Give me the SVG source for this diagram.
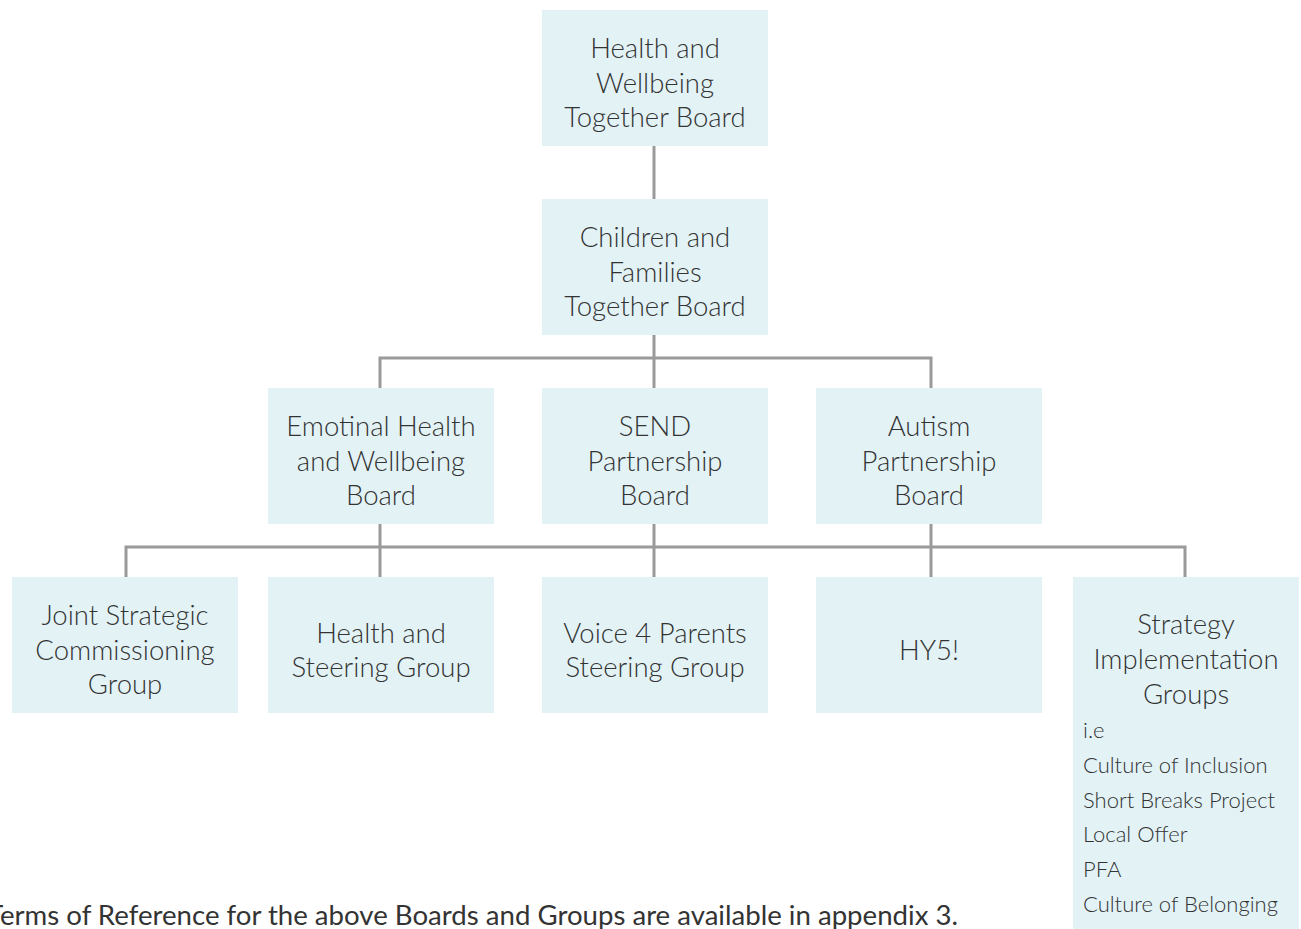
<svg xmlns="http://www.w3.org/2000/svg" width="1301" height="929" viewBox="0 0 1301 929">
<style>
.box{fill:#e2f2f5}
.t{font-family:Lato,"Open Sans","Liberation Sans",sans-serif;font-weight:300;font-size:27.5px;fill:#333;text-anchor:middle}
.s{font-family:Lato,"Open Sans","Liberation Sans",sans-serif;font-weight:300;font-size:22px;fill:#333}
.f{font-family:Lato,"Open Sans","Liberation Sans",sans-serif;font-weight:400;font-size:26px;fill:#333}
.c{stroke:#9a9a9a;stroke-width:3;fill:none}
</style>
<rect width="1301" height="929" fill="#fff"/>
<g id="connectors">
<path class="c" d="M654 146V199"/>
<path class="c" d="M654 335V388M380 388V358H931V388"/>
<path class="c" d="M380 524V577M654 524V577M931 524V577M126 577V547H1185V577"/>
</g>
<g id="n1"><rect class="box" x="542" y="10" width="226" height="136"/>
<text class="t" x="655" y="58">Health and</text><text class="t" x="655" y="93">Wellbeing</text><text class="t" x="655" y="127">Together Board</text></g>
<g id="n2"><rect class="box" x="542" y="199" width="226" height="136"/>
<text class="t" x="655" y="247">Children and</text><text class="t" x="655" y="282">Families</text><text class="t" x="655" y="316">Together Board</text></g>
<g id="n3"><rect class="box" x="268" y="388" width="226" height="136"/>
<text class="t" x="381" y="436">Emotinal Health</text><text class="t" x="381" y="471">and Wellbeing</text><text class="t" x="381" y="505">Board</text></g>
<g id="n4"><rect class="box" x="542" y="388" width="226" height="136"/>
<text class="t" x="655" y="436">SEND</text><text class="t" x="655" y="471">Partnership</text><text class="t" x="655" y="505">Board</text></g>
<g id="n5"><rect class="box" x="816" y="388" width="226" height="136"/>
<text class="t" x="929" y="436">Autism</text><text class="t" x="929" y="471">Partnership</text><text class="t" x="929" y="505">Board</text></g>
<g id="n6"><rect class="box" x="12" y="577" width="226" height="136"/>
<text class="t" x="125" y="625">Joint Strategic</text><text class="t" x="125" y="660">Commissioning</text><text class="t" x="125" y="694">Group</text></g>
<g id="n7"><rect class="box" x="268" y="577" width="226" height="136"/>
<text class="t" x="381" y="643">Health and</text><text class="t" x="381" y="677">Steering Group</text></g>
<g id="n8"><rect class="box" x="542" y="577" width="226" height="136"/>
<text class="t" x="655" y="643">Voice 4 Parents</text><text class="t" x="655" y="677">Steering Group</text></g>
<g id="n9"><rect class="box" x="816" y="577" width="226" height="136"/>
<text class="t" x="929" y="660">HY5!</text></g>
<g id="n10"><rect class="box" x="1073" y="577" width="226" height="352"/>
<text class="t" x="1186" y="634">Strategy</text><text class="t" x="1186" y="669">Implementation</text><text class="t" x="1186" y="704">Groups</text>
<text class="s" x="1083" y="738">i.e</text>
<text class="s" x="1083" y="773">Culture of Inclusion</text>
<text class="s" x="1083" y="808">Short Breaks Project</text>
<text class="s" x="1083" y="842">Local Offer</text>
<text class="s" x="1083" y="877">PFA</text>
<text class="s" x="1083" y="912">Culture of Belonging</text></g>
<text class="f" x="-13" y="925" textLength="971" lengthAdjust="spacingAndGlyphs">Terms of Reference for the above Boards and Groups are available in appendix 3.</text>
</svg>
